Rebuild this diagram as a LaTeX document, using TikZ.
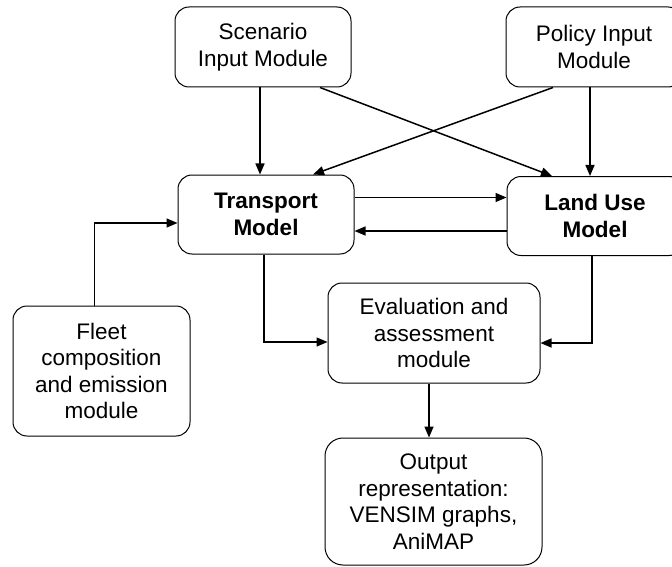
\documentclass[tikz,border=0pt]{standalone}
\usepackage{fontspec}
\setmainfont{Liberation Sans}
\usetikzlibrary{arrows.meta,positioning,calc}

\begin{document}
\begin{tikzpicture}[
  x=1pt, y=-1pt,
  module/.style={
    rectangle, rounded corners=14pt,
    draw=black, line width=1pt,
    align=center, inner sep=4pt,
    font=\fontsize{22.5}{26.5}\selectfont
  },
  link/.style={
    -{Triangle[length=11pt,width=9pt]},
    line width=1.5pt, black
  }
]

\useasboundingbox (0,0) rectangle (672,567);

% ==================== MODULES ====================

% Inputs (top row)
\node (scen) [module, minimum width=176pt, minimum height=80pt] at (263, 47)
    {Scenario\\Input Module};
\node (pol) [module, minimum width=176pt, minimum height=80pt] at (594, 47)
    {Policy Input\\Module};

% Models (middle row)
\node (trans) [module, minimum width=176pt, minimum height=79pt] at (266, 214.5)
    {\textbf{Transport}\\\textbf{Model}};
\node (land) [module, minimum width=176pt, minimum height=79pt] at (595, 216)
    {\textbf{Land Use}\\\textbf{Model}};

% Fleet (left)
\node (fleet) [module, minimum width=177pt, minimum height=130pt] at (101.5, 371)
    {Fleet\\composition\\and emission\\module};

% Evaluation and output (bottom)
\node (eval) [module, minimum width=212pt, minimum height=100pt] at (434, 333)
    {Evaluation and\\assessment\\module};
\node (out) [module, rounded corners=18pt, minimum width=217pt, minimum height=127pt] at (433.5, 501.5)
    {Output\\representation:\\VENSIM graphs,\\AniMAP};

% ==================== LINKS ====================

% inputs -> models
\draw [link] ([xshift=-3pt]scen.south) -- ([xshift=-3pt]scen.south |- trans.north);
\draw [link] ([xshift=-4pt]pol.south) -- ([xshift=-4pt]pol.south |- land.north);
\draw [link] ([xshift=57pt]scen.south) -- ([xshift=-43pt]land.north);
\draw [link] ([xshift=-41pt]pol.south) -- ([xshift=47pt]trans.north);

% transport <-> land use
\draw [link] ([yshift=17pt]trans.east) -- ([yshift=17pt]trans.east -| land.west);
\draw [link] ([yshift=-15pt]land.west) -- ([yshift=-15pt]land.west -| trans.east);

% fleet -> transport
\draw [link] ([xshift=-7pt]fleet.north) |- ([yshift=-8.5pt]trans.west);

% models -> evaluation
\draw [link] ([xshift=-2pt]trans.south) |- ([yshift=-9pt]eval.west);
\draw [link] ([xshift=-3pt]land.south) |- ([yshift=-10pt]eval.east);

% evaluation -> output
\draw [link] ([xshift=-5pt]eval.south) -- ([xshift=-5pt]eval.south |- out.north);

\end{tikzpicture}
\end{document}
